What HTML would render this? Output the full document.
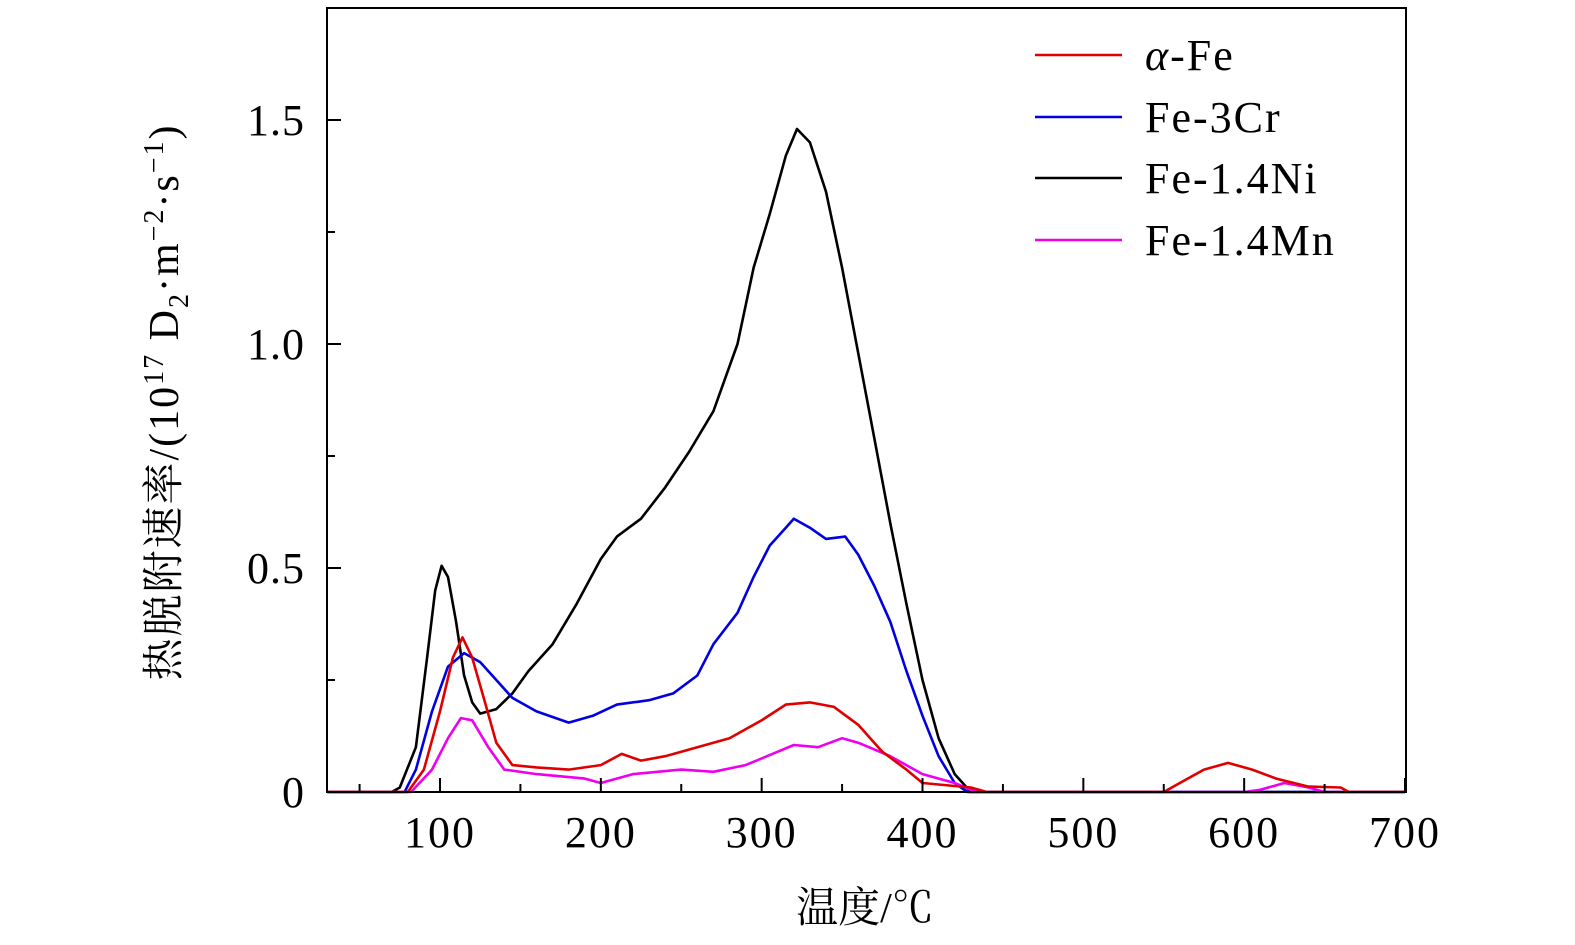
<!DOCTYPE html>
<html><head><meta charset="utf-8"><style>
body{margin:0;background:#fff}
svg{display:block}
text{font-family:"Liberation Serif","Noto Serif CJK SC",serif;fill:#000}
</style></head><body>
<svg width="1575" height="945" viewBox="0 0 1575 945">
<g id="plot"></g>
<g id="axes"></g>
<g font-size="44" letter-spacing="2">
<g><line x1="1035" y1="55" x2="1122" y2="55" stroke="#e00000" stroke-width="2.5"/><text x="1145" y="70"><tspan font-style="italic">α</tspan>-Fe</text></g>
<g><line x1="1035" y1="117" x2="1122" y2="117" stroke="#0000e0" stroke-width="2.5"/><text x="1145" y="132">Fe-3Cr</text></g>
<g><line x1="1035" y1="178" x2="1122" y2="178" stroke="#000" stroke-width="2.5"/><text x="1145" y="193">Fe-1.4Ni</text></g>
<g><line x1="1035" y1="240" x2="1122" y2="240" stroke="#ee00ee" stroke-width="2.5"/><text x="1145" y="255">Fe-1.4Mn</text></g>
</g>
<text x="865" y="922" font-size="42" text-anchor="middle">温度/℃</text>
<text transform="translate(178,402) rotate(-90)" font-size="42" letter-spacing="2" text-anchor="middle">热脱附速率/(10<tspan dy="-15" font-size="28">17</tspan><tspan dy="15"> D</tspan><tspan dy="10" font-size="28">2</tspan><tspan dy="-10">·m</tspan><tspan dy="-15" font-size="28">−2</tspan><tspan dy="15">·s</tspan><tspan dy="-15" font-size="28">−1</tspan><tspan dy="15">)</tspan></text>
</svg>
<script>
const xTicks=[100,200,300,400,500,600,700];
const yTicks=[0,0.5,1.0,1.5];
const yTickLabels=["0","0.5","1.0","1.5"];
const niT=[30,70,75,85,92,97,101,105,110,115,120,125,135,145,155,170,185,200,210,225,240,255,270,285,295,305,315,322,330,340,350,360,370,380,390,400,410,420,430,700];
const niV=[0,0,0.01,0.1,0.3,0.45,0.505,0.48,0.38,0.26,0.2,0.175,0.185,0.22,0.27,0.33,0.42,0.52,0.57,0.61,0.68,0.76,0.85,1.0,1.17,1.29,1.42,1.48,1.45,1.34,1.17,0.98,0.79,0.6,0.42,0.25,0.12,0.04,0,0];
const crT=[30,78,85,95,105,115,125,135,145,160,180,195,210,230,245,260,270,285,295,305,315,320,330,340,352,360,370,380,390,400,410,420,428,700];
const crV=[0,0,0.05,0.18,0.28,0.31,0.29,0.25,0.21,0.18,0.155,0.17,0.195,0.205,0.22,0.26,0.33,0.4,0.48,0.55,0.59,0.61,0.59,0.565,0.57,0.53,0.46,0.38,0.27,0.17,0.08,0.02,0,0];
const feT=[30,80,90,100,108,114,120,128,135,145,160,180,200,213,225,240,260,280,300,315,330,345,360,375,390,400,430,440,550,560,575,590,605,620,640,660,665,700];
const feV=[0,0,0.05,0.18,0.3,0.345,0.3,0.2,0.11,0.06,0.055,0.05,0.06,0.085,0.07,0.08,0.1,0.12,0.16,0.195,0.2,0.19,0.15,0.09,0.05,0.02,0.01,0,0,0.02,0.05,0.065,0.05,0.03,0.012,0.01,0,0];
const mnT=[30,82,95,105,113,120,130,140,160,190,200,220,250,270,290,310,320,335,350,360,380,400,420,430,440,600,610,625,640,650,700];
const mnV=[0,0,0.05,0.12,0.165,0.16,0.1,0.05,0.04,0.03,0.02,0.04,0.05,0.045,0.06,0.09,0.105,0.1,0.12,0.11,0.08,0.04,0.02,0.005,0,0,0.005,0.02,0.01,0,0];
const L=327,R=1406,T=8,B=792;
const xs=t=>440+(t-100)*(1405-440)/600;
const ys=v=>B-v*(B-120)/1.5;
const NS="http://www.w3.org/2000/svg";
const plot=document.getElementById('plot'),axes=document.getElementById('axes');
function mk(tag,attrs,parent){const e=document.createElementNS(NS,tag);for(const k in attrs)e.setAttribute(k,attrs[k]);parent.appendChild(e);return e;}
function series(T_,V_,color,name){
 const d=T_.map((t,i)=>(i?'L':'M')+xs(t).toFixed(1)+','+ys(V_[i]).toFixed(1)).join('');
 const p=mk('path',{d:d,fill:'none',stroke:color,'stroke-width':2.6,'stroke-linejoin':'round'},plot);
 
 
}
series(niT,niV,'#000','line-fe-1.4ni');
series(crT,crV,'#0000e0','line-fe-3cr');
series(mnT,mnV,'#ee00ee','line-fe-1.4mn');
series(feT,feV,'#e00000','line-alpha-fe');
const frame=mk('rect',{x:L,y:T,width:R-L,height:B-T,fill:'none',stroke:'#000','stroke-width':2},axes);


for(let t=50;t<=700;t+=50){
 const major=t%100===0;
 mk('line',{x1:xs(t),x2:xs(t),y1:B,y2:B-(major?14:8),stroke:'#000','stroke-width':2},axes);
}
xTicks.forEach(t=>{
 const tx=mk('text',{x:xs(t),y:847,'font-size':44,'letter-spacing':2,'text-anchor':'middle'},axes);
 tx.textContent=t;
 
 
});
for(let v=0.25;v<1.75;v+=0.25){
 const major=Math.abs(v*2-Math.round(v*2))<1e-6;
 mk('line',{x1:L,x2:L+(major?14:8),y1:ys(v),y2:ys(v),stroke:'#000','stroke-width':2},axes);
}
yTicks.forEach((v,i)=>{
 const tx=mk('text',{x:305,y:ys(v)+15,'font-size':44,'letter-spacing':1,'text-anchor':'end'},axes);
 tx.textContent=yTickLabels[i];
 
 
});
</script>
</body></html>
